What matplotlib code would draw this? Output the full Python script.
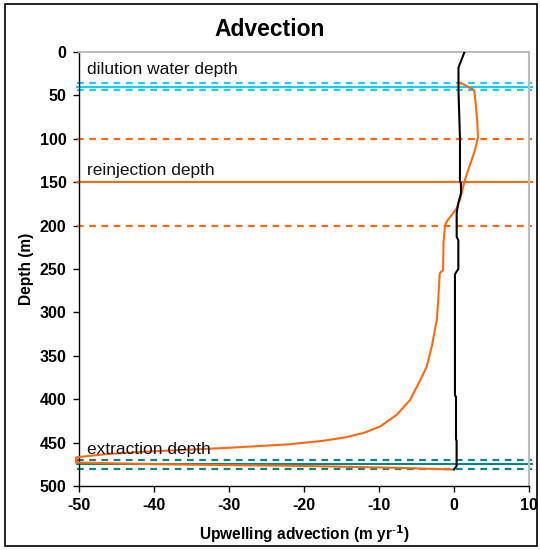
import matplotlib
matplotlib.use('Agg')
import matplotlib.pyplot as plt
from matplotlib.patches import Rectangle

plt.rcParams['font.family'] = ['Liberation Sans', 'DejaVu Sans']
plt.rcParams['axes.unicode_minus'] = False

# profiles (x = advection m/yr, depth in m)
black_x = [1.4, 0.6, 0.6, 0.8, 0.8, 0.93, 0.93, 0.58, 0.36, 0.36, 0.58, 0.58, 0.13, 0.13, 0.27, 0.27, 0.35, 0.35, 0.0]
black_depth = [0, 18, 45, 100, 150, 151, 163, 174, 185, 213, 217, 250, 256, 396, 397, 446, 448, 477, 481]

orange_x = [0.6, 1.2, 2.7, 2.9, 3.1, 3.2, 2.8, 1.47, 0.8, 0.36, -0.98, -1.2, -1.4, -1.45, -1.9, -2.0, -2.1,
            -2.3, -2.97, -3.64, -4.5, -5.87, -7.64, -9.87, -12.1, -14.5, -17.5, -22.0, -30.0, -40.0, -46.0, -50.4,
            -50.4, -45.0, -39.0, -30.0, -21.5, -14.0, -8.0, -0.1]
orange_depth = [35, 37, 44, 60, 80, 98, 113, 147, 170, 180, 195.5, 200, 220, 251, 255, 270, 286,
                309, 339.5, 362.5, 378, 401, 418, 431.6, 439, 444, 448, 452, 456, 460, 463, 467,
                473, 474, 475, 476, 476.7, 478, 479, 481]

# marker depths
dilution = [36, 40, 44]
reinjection = [100, 150, 200]
extraction = [470, 475, 480]

labels = ['dilution water depth', 'reinjection depth', 'extraction depth']
label_depth = [11, 128, 449]

xticks = [-50, -40, -30, -20, -10, 0, 10]
yticks = list(range(0, 501, 50))

fig = plt.figure(figsize=(5.4, 5.5), dpi=100)
ax = fig.add_axes([0.1463, 0.1164, 0.8333, 0.7891])

cyan = '#1ECBF5'
orange = '#FF6A10'
teal = '#0A8585'

xl = [-50.3, 10.4]
for depths, col in [(dilution, cyan), (reinjection, orange), (extraction, teal)]:
    ax.plot(xl, [depths[0]] * 2, color=col, lw=1.6, ls=(0, (3, 2.5)), clip_on=False, zorder=2)
    ax.plot(xl, [depths[1]] * 2, color=col, lw=1.5, clip_on=False, zorder=2)
    ax.plot(xl, [depths[2]] * 2, color=col, lw=1.6, ls=(0, (3, 2.5)), clip_on=False, zorder=2)

ax.plot(orange_x, orange_depth, color=orange, lw=1.5, clip_on=False, zorder=3)
ax.plot(black_x, black_depth, color='black', lw=1.5, zorder=4)

for txt, d in zip(labels, label_depth):
    ax.text(-49, d, txt, fontsize=12.5, va='top', ha='left', color='#111111')

ax.set_xlim(-50, 10)
ax.set_ylim(500, 0)
ax.set_xticks(xticks)
ax.set_yticks(yticks)
ax.tick_params(direction='out', length=4, width=1, labelsize=11.5, pad=5)
for lab in ax.get_xticklabels() + ax.get_yticklabels():
    lab.set_fontweight('bold')

for s in ['top', 'right']:
    ax.spines[s].set_color('#BBBBBB')
    ax.spines[s].set_linewidth(1.5)
for s in ['left', 'bottom']:
    ax.spines[s].set_linewidth(1)

fig.text(0.5, 0.947, 'Advection', fontsize=16.5, fontweight='bold', ha='center', va='center')
ax.set_ylabel('Depth (m)', fontsize=11.2, fontweight='bold', labelpad=4)
ax.set_xlabel('Upwelling advection (m yr$^{\\mathbf{\\text{-}1}}$)', fontsize=11.2, fontweight='bold', labelpad=7)

fig.patches.append(Rectangle((0.009, 0.007), 0.985, 0.985, transform=fig.transFigure,
                             fill=False, edgecolor='black', lw=1.2))

fig.savefig('out.png', dpi=100)
